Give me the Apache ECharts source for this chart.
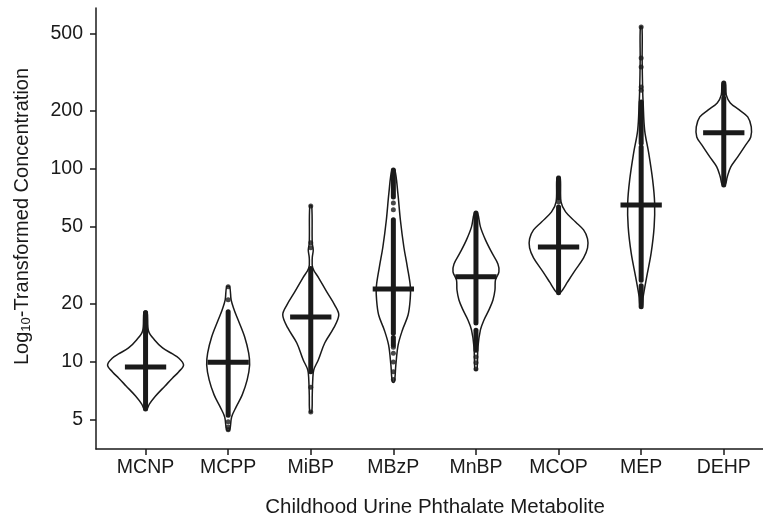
<!DOCTYPE html>
<html><head><meta charset="utf-8">
<script src="https://cdn.jsdelivr.net/npm/echarts@6/dist/echarts.min.js"></script>
<style>html,body{margin:0;padding:0;background:#fff}#c{width:763px;height:519px}</style>
</head><body><div id="c"></div>
<script>
const categories = ['MCNP','MCPP','MiBP','MBzP','MnBP','MCOP','MEP','DEHP'];
const medians = [9.42, 9.95, 17.1, 23.9, 27.6, 39.4, 65, 154];
const yTicks = [5, 10, 20, 50, 100, 200, 500];

// violin density profiles: [concentration, half-width in category units], top to bottom
const violinMCNP = [[18.2,0.018],[14.47,0.036],[13.0,0.109],[11.82,0.206],[11.0,0.327],[10.49,0.40],[9.65,0.46],[8.88,0.40],[8.26,0.327],[7.51,0.236],[6.66,0.121],[6.06,0.048],[5.64,0.012]];
const violinMCPP = [[24.5,0.018],[20.95,0.036],[18.6,0.073],[16.5,0.121],[13.48,0.20],[11.13,0.248],[9.65,0.26],[8.07,0.23],[6.75,0.17],[5.85,0.097],[5.19,0.042],[4.44,0.018]];
const violinMiBP = [[64.3,0.012],[41.4,0.018],[38.0,0.03],[34.6,0.018],[30.7,0.024],[27.2,0.097],[23.05,0.194],[19.7,0.29],[17.5,0.339],[15.0,0.278],[12.54,0.169],[10.24,0.091],[9.09,0.036],[8.07,0.024],[6.75,0.018],[5.51,0.012]];
const violinMBzP = [[98.8,0.018],[75.1,0.054],[54.4,0.085],[39.4,0.127],[31.1,0.169],[24.5,0.206],[20.95,0.203],[17.5,0.178],[14.65,0.11],[12.25,0.058],[9.65,0.03],[7.88,0.012]];
const violinMnBP = [[59.2,0.018],[50.1,0.054],[42.9,0.115],[36.7,0.194],[32.2,0.266],[29.3,0.278],[26.6,0.236],[23.6,0.23],[20.95,0.206],[18.6,0.157],[16.5,0.097],[14.65,0.054],[11.96,0.024],[9.09,0.012]];
const violinMCOP = [[90.9,0.018],[67.5,0.03],[59.9,0.085],[53.1,0.206],[48.3,0.303],[43.4,0.351],[38.96,0.351],[34.6,0.303],[29.3,0.188],[25.97,0.109],[23.6,0.048],[22.8,0.018]];
const violinMEP = [[544,0.01],[367,0.012],[256,0.018],[220,0.024],[159,0.042],[121,0.091],[87.7,0.139],[66.7,0.163],[50.1,0.157],[36.7,0.121],[27.6,0.067],[21.7,0.024],[19.3,0.012]];
const violinDEHP = [[279,0.018],[241.8,0.03],[219.8,0.079],[202.2,0.188],[186,0.29],[165,0.333],[146.5,0.327],[133.2,0.266],[115.4,0.169],[102.4,0.085],[90.9,0.042],[82.6,0.018]];

// dense runs of observations [low, high] and isolated observations
const stripsMCNP = [[5.7, 18.0]];
const stripsMCPP = [[5.3, 18.2]];
const stripsMiBP = [[8.9, 30.5]];
const stripsMBzP = [[71.5, 98.8], [14.1, 54.5], [12.2, 13.4]];
const stripsMnBP = [[15.9, 59.2], [11.5, 14.6]];
const stripsMCOP = [[22.8, 63.5], [71, 89]];
const stripsMEP  = [[19.3, 24.8], [26.5, 130], [136, 222]];
const stripsDEHP = [[82.6, 233], [245, 279]];

const pointsMCNP = [];
const pointsMCPP = [24.5, 21.0, 4.9, 4.6, 4.45];
const pointsMiBP = [64.3, 41.4, 39.0, 7.4, 5.5];
const pointsMBzP = [66.6, 61.4, 11.9, 11.1, 10.0, 8.9, 8.1];
const pointsMnBP = [10.6, 9.9, 9.2];
const pointsMCOP = [67.5];
const pointsMEP  = [256, 266, 337, 376, 544];
const pointsDEHP = [];

const violins = [violinMCNP, violinMCPP, violinMiBP, violinMBzP, violinMnBP, violinMCOP, violinMEP, violinDEHP];
const strips = [stripsMCNP, stripsMCPP, stripsMiBP, stripsMBzP, stripsMnBP, stripsMCOP, stripsMEP, stripsDEHP];
const points = [pointsMCNP, pointsMCPP, pointsMiBP, pointsMBzP, pointsMnBP, pointsMCOP, pointsMEP, pointsDEHP];

const L = Math.log10;
const INK = '#1a1a1a';
const FONT = "'Liberation Sans', Arial, Helvetica, sans-serif";

const chart = echarts.init(document.getElementById('c'), null, {renderer: 'canvas'});

const stripData = [];
strips.forEach((arr, i) => arr.forEach(s => stripData.push([i + 1, L(s[0]), L(s[1])])));
const pointData = [];
points.forEach((arr, i) => arr.forEach(v => pointData.push([i + 1, L(v)])));

chart.setOption({
  animation: false,
  grid: {left: 96, right: 0, top: 8, bottom: 70, containLabel: false, outerBoundsMode: 'none'},
  xAxis: {
    type: 'value', min: 0.4, max: 8.475,
    axisLine: {show: true, lineStyle: {color: INK, width: 1.5}},
    axisTick: {show: true, length: 6, lineStyle: {color: INK, width: 1.5}, customValues: categories.map((c, i) => i + 1)},
    axisLabel: {customValues: categories.map((c, i) => i + 1), formatter: v => categories[Math.round(v) - 1] || '',
      color: INK, fontSize: 19.5, fontFamily: FONT, margin: 9},
    splitLine: {show: false},
    name: 'Childhood Urine Phthalate Metabolite', nameLocation: 'middle', nameGap: 48,
    nameTextStyle: {color: INK, fontSize: 20.5, fontFamily: FONT, padding: [0, 0, 0, 11]}
  },
  yAxis: {
    type: 'value', min: L(3.54), max: L(682),
    axisLine: {show: true, lineStyle: {color: INK, width: 1.5}},
    axisTick: {show: true, length: 6, lineStyle: {color: INK, width: 1.5}, customValues: yTicks.map(L)},
    axisLabel: {customValues: yTicks.map(L), formatter: v => String(Math.round(Math.pow(10, v))),
      color: INK, fontSize: 19.5, fontFamily: FONT, margin: 13},
    splitLine: {show: false},
    name: 'Log{sub|10}-Transformed Concentration', nameLocation: 'middle', nameGap: 63, nameRotate: 90,
    nameTextStyle: {color: INK, fontSize: 20, fontFamily: FONT, padding: [0, 0, 0, 24],
      rich: {sub: {fontSize: 13, fontFamily: FONT, color: INK, padding: [9, 0, 0, 0]}}}
  },
  series: [
    {
      type: 'custom', z: 1,
      data: categories.map((c, i) => [i + 1]),
      renderItem: (params, api) => {
        const i = api.value(0);
        const prof = violins[i - 1];
        const pts = [];
        for (let k = 0; k < prof.length; k++) pts.push(api.coord([i + prof[k][1], L(prof[k][0])]));
        for (let k = prof.length - 1; k >= 0; k--) pts.push(api.coord([i - prof[k][1], L(prof[k][0])]));
        return {type: 'polygon', shape: {points: pts, smooth: 0.35},
          style: {fill: 'none', stroke: INK, lineWidth: 1.5}};
      }
    },
    {
      type: 'custom', z: 2,
      data: stripData,
      renderItem: (params, api) => {
        const a = api.coord([api.value(0), api.value(1)]);
        const b = api.coord([api.value(0), api.value(2)]);
        return {type: 'line', shape: {x1: a[0], y1: a[1], x2: b[0], y2: b[1]},
          style: {stroke: INK, lineWidth: 5, lineCap: 'round'}};
      }
    },
    {
      type: 'scatter', z: 3, symbol: 'circle', symbolSize: 5,
      itemStyle: {color: INK}, data: pointData
    },
    {
      type: 'custom', z: 4,
      data: medians.map((m, i) => [i + 1, L(m)]),
      renderItem: (params, api) => {
        const a = api.coord([api.value(0) - 0.25, api.value(1)]);
        const b = api.coord([api.value(0) + 0.25, api.value(1)]);
        return {type: 'line', shape: {x1: a[0], y1: a[1], x2: b[0], y2: b[1]},
          style: {stroke: INK, lineWidth: 5, lineCap: 'butt'}};
      }
    }
  ]
});
</script>
</body></html>
